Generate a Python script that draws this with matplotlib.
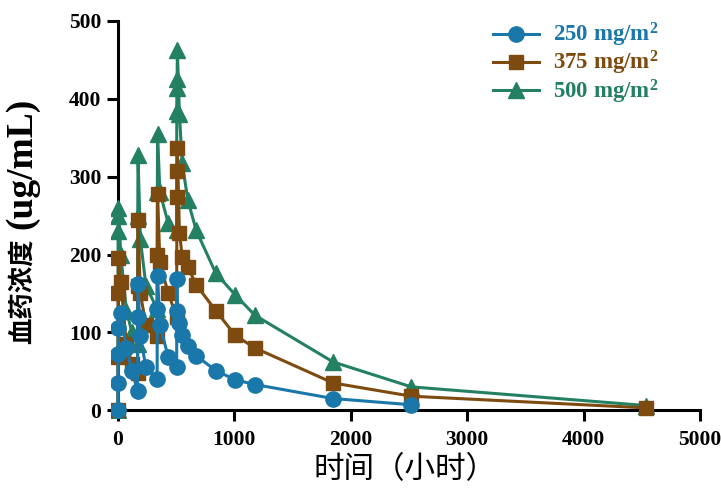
import matplotlib
matplotlib.use("Agg")
import matplotlib.pyplot as plt

plt.rcParams['mathtext.fontset'] = 'custom'
plt.rcParams['mathtext.rm'] = 'Liberation Serif:bold'
plt.rcParams['mathtext.it'] = 'Liberation Serif:bold'
plt.rcParams['mathtext.bf'] = 'Liberation Serif:bold'

# ---- data ----
t_250 = [0, 1, 2, 4, 24, 72, 120, 168, 170, 172, 192, 240, 336, 338, 340, 360, 432, 504,
         506, 508, 528, 552, 600, 672, 840, 1008, 1176, 1848, 2520]
c_250 = [0, 35, 72, 105, 125, 80, 50, 25, 120, 162, 95, 55, 40, 130, 173, 110, 68, 55,
         168, 128, 112, 97, 83, 70, 51, 39, 33, 15, 7]

t_375 = [0, 1, 2, 4, 24, 72, 120, 168, 170, 172, 192, 240, 336, 338, 340, 360, 432, 504,
         506, 508, 510, 528, 552, 600, 672, 840, 1008, 1176, 1848, 2520, 4536]
c_375 = [0, 68, 150, 195, 165, 85, 60, 48, 160, 245, 150, 110, 95, 200, 278, 190, 150, 120,
         274, 307, 337, 228, 197, 184, 161, 128, 96, 80, 35, 18, 3]

t_500 = [0, 1, 2, 4, 24, 72, 120, 168, 170, 172, 192, 240, 336, 338, 340, 360, 432, 504,
         505, 506, 508, 510, 528, 552, 600, 672, 840, 1008, 1176, 1848, 2520, 4536]
c_500 = [0, 230, 250, 260, 200, 128, 100, 85, 250, 328, 220, 160, 130, 280, 355, 280, 240, 231,
         385, 414, 425, 463, 380, 317, 270, 231, 176, 148, 122, 62, 30, 6]

labels = ["250 mg/m$^{2}$", "375 mg/m$^{2}$", "500 mg/m$^{2}$"]
colors = ["#1a77a9", "#7d4a10", "#248062"]
x_ticks = [0, 1000, 2000, 3000, 4000, 5000]
y_ticks = [0, 100, 200, 300, 400, 500]

fig = plt.figure(figsize=(7.21, 4.93), dpi=100)
ax = fig.add_axes([111 / 721, 75 / 493, 589 / 721, 397 / 493])

lw = 2.2
ms = 11
h500, = ax.plot(t_500, c_500, color=colors[2], marker='^', ms=ms, lw=lw, zorder=3)
h375, = ax.plot(t_375, c_375, color=colors[1], marker='s', ms=ms - 1, lw=lw, zorder=4)
h250, = ax.plot(t_250, c_250, color=colors[0], marker='o', ms=ms, lw=lw, zorder=5)

ax.set_xlim(-60, 5000)
ax.set_ylim(-10, 500)
for s in ['top', 'right']:
    ax.spines[s].set_visible(False)
ax.spines['left'].set_position(('data', 0))
ax.spines['bottom'].set_position(('data', 0))
ax.spines['left'].set_bounds(0, 500)
ax.spines['bottom'].set_bounds(0, 5000)
for s in ['left', 'bottom']:
    ax.spines[s].set_linewidth(2.2)
    ax.spines[s].set_zorder(2)
ax.set_xticks(x_ticks)
ax.set_yticks(y_ticks)
ax.tick_params(direction='out', length=8, width=2.2, pad=4)
for lab in ax.get_xticklabels() + ax.get_yticklabels():
    lab.set_fontfamily('Liberation Serif')
    lab.set_fontweight('bold')
    lab.set_fontsize(15.5)
ax.tick_params(axis='x', pad=6)

ax.set_xlabel("时间（小时）", family=['Noto Sans CJK SC'], fontsize=22, labelpad=3)

# y label: Chinese part and unit part (unit rendered larger as in the reference)
fig.text(22 / 721, 1 - 291 / 493, "血药浓度", family=['Noto Sans CJK SC'], fontsize=19,
         fontweight='bold', rotation=90, ha='center', va='center')
fig.text(22 / 721, 1 - 163 / 493, "(ug/mL)", family=['Liberation Serif'], fontsize=27,
         fontweight='bold', rotation=90, ha='center', va='center')

leg = ax.legend([h250, h375, h500], labels, loc='upper left',
                bbox_to_anchor=((493 - 111) / 589, (418 - 21) / 397),
                frameon=False, handlelength=2.0, labelspacing=0.0, handletextpad=0.6,
                borderpad=0, borderaxespad=0,
                prop={'family': 'Liberation Serif', 'weight': 'bold', 'size': 16.5})
for txt, c in zip(leg.get_texts(), colors):
    txt.set_color(c)

fig.savefig("out.png", dpi=100)
